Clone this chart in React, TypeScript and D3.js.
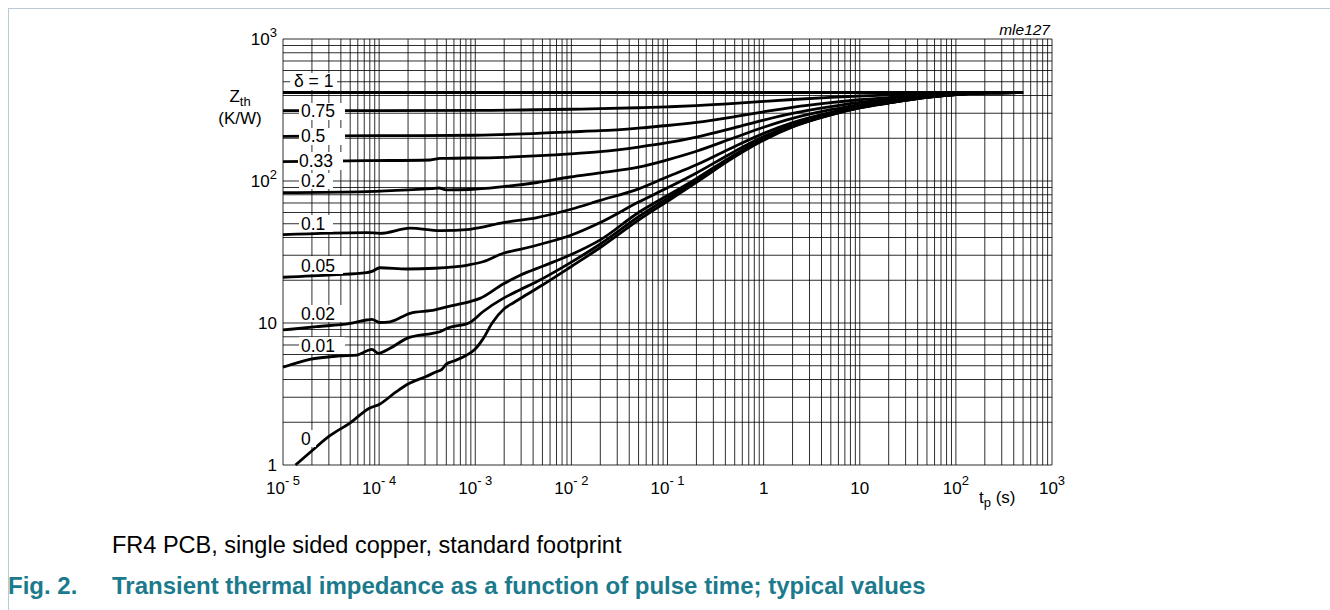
import React from "react";
import * as d3 from "d3";

type P = [number, number];

// δ = 0 (single pulse)
const zd0: P[] = [[1.35e-5,1.0],[2e-5,1.26],[3e-5,1.59],[5e-5,1.98],[8e-5,2.52],[1e-4,2.67],[1.5e-4,3.27],[2e-4,3.72],[3e-4,4.17],[4e-4,4.55],[4.5e-4,4.71],[5e-4,5.14],[6e-4,5.4],[8e-4,5.9],[1e-3,6.56],[1.2e-3,7.7],[1.5e-3,10.0],[2e-3,12.6],[2.5e-3,13.9],[3e-3,15.0],[5e-3,18.5],[1e-2,25.0],[2e-2,34],[5e-2,53],[0.1,72],[0.2,98],[0.5,148],[1,194],[2,240],[5,292],[10,327],[20,354],[50,388],[100,406],[200,417],[500,420]];
const zd001: P[] = [[1e-5,4.88],[1.9e-5,5.55],[3.9e-5,5.86],[5.9e-5,5.95],[7.5e-5,6.38],[8.4e-5,6.53],[9.8e-5,6.12],[1.3e-4,6.64],[1.95e-4,7.8],[3.6e-4,8.46],[4.3e-4,8.68],[5.1e-4,9.18],[8.8e-4,10.1],[1.2e-3,12.0],[1.95e-3,14.9],[2.9e-3,17.1],[4.4e-3,19.6],[9.7e-3,26.5],[0.02,36],[0.05,56],[0.1,75.5],[0.2,101],[0.5,150.7],[1,196.3],[2,241.8],[5,293.3],[10,328],[20,354.7],[50,388.3],[100,406],[200,417],[500,420]];
const zd002: P[] = [[1e-5,8.93],[2.24e-5,9.42],[5e-5,9.95],[7.4e-5,10.5],[8.4e-5,10.6],[1.02e-4,10.08],[1.3e-4,10.2],[2.1e-4,11.7],[3.8e-4,12.35],[5.05e-4,13.0],[9e-4,14.2],[1.12e-3,14.9],[1.95e-3,18.8],[2.9e-3,21.6],[5.1e-3,25.2],[9.7e-3,30.1],[0.02,38.5],[0.05,60],[0.1,79],[0.2,104],[0.5,153.4],[1,198.5],[2,243.6],[5,294.6],[10,328.9],[20,355.3],[50,388.6],[100,406.3],[200,417],[500,420]];
const zd005: P[] = [[1e-5,21.0],[3.3e-5,21.8],[7.4e-5,22.6],[8.4e-5,23.1],[1.02e-4,24.5],[1.94e-4,24.0],[3.8e-4,24.3],[8.4e-4,25.6],[1.2e-3,27.0],[1.96e-3,31.0],[2.92e-3,33.0],[5.1e-3,36.3],[9.7e-3,41.3],[0.02,51],[0.05,71],[0.1,89.5],[0.2,114],[0.5,161.6],[1,205.3],[2,249],[5,298.4],[10,331.7],[20,357.3],[50,389.6],[100,406.7],[200,417.2],[500,420]];
const zd01: P[] = [[1e-5,41.9],[7.4e-5,43.3],[1.02e-4,42.8],[2.1e-4,46.5],[4.3e-4,44.7],[8.8e-4,45.7],[1.96e-3,50.9],[4.4e-3,55.3],[9.7e-3,63.0],[0.02,73],[0.05,88],[0.1,107],[0.2,130],[0.5,175.2],[1,216.6],[2,258],[5,304.8],[10,336.3],[20,360.6],[50,391.2],[100,407.4],[200,417.3],[500,420]];
const zd02: P[] = [[1e-5,82.7],[7.4e-5,84.1],[2e-4,86.5],[3.5e-4,88.5],[4.2e-4,89.3],[5e-4,86.6],[8.8e-4,87.1],[1.96e-3,91.2],[4.4e-3,97.6],[9.7e-3,106.7],[0.02,114],[0.05,125],[0.1,141],[0.2,162],[0.5,202.4],[1,239.2],[2,276],[5,317.6],[10,345.6],[20,367.2],[50,394.4],[100,408.8],[200,417.6],[500,420]];
const zd033: P[] = [[1e-5,136.8],[7.4e-5,139],[3.4e-4,140.6],[4.3e-4,144.2],[5.05e-4,144.5],[1.96e-3,146.9],[9.7e-3,155],[0.02,161],[0.05,173.4],[0.1,186],[0.2,204],[0.5,237.8],[1,268.6],[2,299.4],[5,334.2],[10,357.7],[20,375.8],[50,398.6],[100,410.6],[200,418],[500,420]];
const zd05: P[] = [[1e-5,206.5],[1e-4,208.5],[1e-3,210],[1e-2,222],[0.02,226],[0.05,236],[0.1,246],[0.2,259],[0.5,284],[1,307],[2,330],[5,356],[10,373.5],[20,387],[50,404],[100,413],[200,418.5],[500,420]];
const zd075: P[] = [[1e-5,313],[1e-3,314],[1e-2,320],[0.02,323],[0.05,328],[0.1,333],[0.2,339.5],[0.5,352],[1,363.5],[2,375],[5,388],[10,396.8],[20,403.5],[50,412],[100,416.5],[200,419],[500,420]];
const zd1: P[] = [[1e-5,420],[500,420]];

const seriesList: P[][] = [zd1, zd075, zd05, zd033, zd02, zd01, zd005, zd002, zd001, zd0];

const dutyLabels = ["δ = 1", "0.75", "0.5", "0.33", "0.2", "0.1", "0.05", "0.02", "0.01", "0"];

const xTickExps = [-5, -4, -3, -2, -1, 0, 1, 2, 3];
const yTickExps = [0, 1, 2, 3];

// layout of the duty-cycle labels (text x, baseline y, box left, box right, box top, box bottom)
const labelLayout = [
  { tx: 294, ty: 87, bx0: 290, bx1: 337, by0: 73, by1: 90 },
  { tx: 301, ty: 117, bx0: 299, bx1: 345, by0: 103, by1: 120 },
  { tx: 301, ty: 142, bx0: 299, bx1: 345, by0: 128, by1: 145 },
  { tx: 299, ty: 167, bx0: 298, bx1: 343, by0: 152, by1: 170 },
  { tx: 301, ty: 187, bx0: 299, bx1: 333, by0: 173, by1: 189 },
  { tx: 301, ty: 230, bx0: 299, bx1: 333, by0: 215, by1: 232 },
  { tx: 301, ty: 272, bx0: 299, bx1: 343, by0: 256, by1: 274 },
  { tx: 301, ty: 320, bx0: 299, bx1: 343, by0: 305, by1: 322 },
  { tx: 301, ty: 352, bx0: 299, bx1: 345, by0: 337, by1: 354 },
  { tx: 301, ty: 445, bx0: 299, bx1: 316, by0: 430, by1: 447 },
];

const FONT = "'Liberation Sans', Arial, Helvetica, sans-serif";

export default function App() {
  const x = d3.scaleLog().domain([1e-5, 1e3]).range([283, 1052]);
  const y = d3.scaleLog().domain([1, 1000]).range([465, 39]);

  const line = d3
    .line<P>()
    .x((d) => x(d[0]))
    .y((d) => y(d[1]))
    .curve(d3.curveMonotoneX);

  const vGrid: number[] = [];
  for (let e = -5; e < 3; e++) for (let k = 1; k <= 9; k++) vGrid.push(k * Math.pow(10, e));
  vGrid.push(1000);
  const hGrid: number[] = [];
  for (let e = 0; e < 3; e++) for (let k = 1; k <= 9; k++) hGrid.push(k * Math.pow(10, e));
  hGrid.push(1000);

  const [x0, x1] = x.range();
  const [y0, y1] = y.range();

  return (
    <svg
      width={1330}
      height={610}
      style={{ position: "absolute", left: 0, top: 0, display: "block", background: "#fff" }}
      fontFamily={FONT}
    >
      <rect x={0} y={0} width={1330} height={610} fill="#fff" />
      {/* frame */}
      <line x1={8.5} y1={8} x2={8.5} y2={610} stroke="#b9cad6" strokeWidth={1} />
      <line x1={8} y1={8.5} x2={1330} y2={8.5} stroke="#b9cad6" strokeWidth={1} />

      {/* grid */}
      <g stroke="#000" strokeOpacity={0.82} strokeWidth={1}>
        {vGrid.map((v, i) => (
          <line key={"v" + i} x1={x(v)} x2={x(v)} y1={y0} y2={y1} />
        ))}
        {hGrid.map((v, i) => (
          <line key={"h" + i} x1={x0} x2={x1} y1={y(v)} y2={y(v)} />
        ))}
      </g>

      {/* curves */}
      <g fill="none" stroke="#000" strokeWidth={2.8} strokeLinejoin="round">
        {seriesList.map((s, i) => (
          <path key={i} d={line(s) || ""} />
        ))}
      </g>

      {/* duty labels */}
      {dutyLabels.map((t, i) => {
        const l = labelLayout[i];
        return (
          <g key={"l" + i}>
            <rect x={l.bx0} y={l.by0} width={l.bx1 - l.bx0} height={l.by1 - l.by0} fill="#fff" />
            <text x={l.tx} y={l.ty} fontSize={17.5} fill="#000">
              {t}
            </text>
          </g>
        );
      })}

      {/* y ticks */}
      {yTickExps.map((e) => {
        const yy = y(Math.pow(10, e));
        if (e === 0)
          return (
            <text key={"y" + e} x={277} y={yy + 6} fontSize={17} textAnchor="end">
              1
            </text>
          );
        if (e === 1)
          return (
            <text key={"y" + e} x={277} y={yy + 6} fontSize={17} textAnchor="end">
              10
            </text>
          );
        return (
          <text key={"y" + e} x={277} y={yy + 6} fontSize={17} textAnchor="end">
            10
            <tspan fontSize={13} dy={-8}>
              {e}
            </tspan>
          </text>
        );
      })}

      {/* x ticks */}
      {xTickExps.map((e) => {
        const xx = x(Math.pow(10, e));
        if (e === 0)
          return (
            <text key={"x" + e} x={xx} y={494} fontSize={17} textAnchor="middle">
              1
            </text>
          );
        if (e === 1)
          return (
            <text key={"x" + e} x={xx} y={494} fontSize={17} textAnchor="middle">
              10
            </text>
          );
        return (
          <text key={"x" + e} x={xx} y={494} fontSize={17} textAnchor="middle">
            10
            <tspan fontSize={13} dy={-9}>
              {e < 0 ? "- " + Math.abs(e) : String(e)}
            </tspan>
          </text>
        );
      })}

      {/* axis titles */}
      <text x={240} y={102} fontSize={17} textAnchor="middle">
        Z<tspan fontSize={13} dy={4}>th</tspan>
      </text>
      <text x={240} y={124} fontSize={17} textAnchor="middle">
        (K/W)
      </text>
      <text x={979} y={503} fontSize={17}>
        t<tspan fontSize={13} dy={4}>p</tspan>
        <tspan dy={-4}> (s)</tspan>
      </text>
      <text x={1050} y={35} fontSize={15.5} fontStyle="italic" textAnchor="end">
        mle127
      </text>

      {/* captions */}
      <text x={112} y={553} fontSize={23.5} fill="#000">
        FR4 PCB, single sided copper, standard footprint
      </text>
      <text x={8} y={594} fontSize={24} fontWeight="bold" fill="#1b7a8c">
        Fig. 2.
      </text>
      <text x={112} y={594} fontSize={24} fontWeight="bold" fill="#1b7a8c">
        Transient thermal impedance as a function of pulse time; typical values
      </text>
    </svg>
  );
}
